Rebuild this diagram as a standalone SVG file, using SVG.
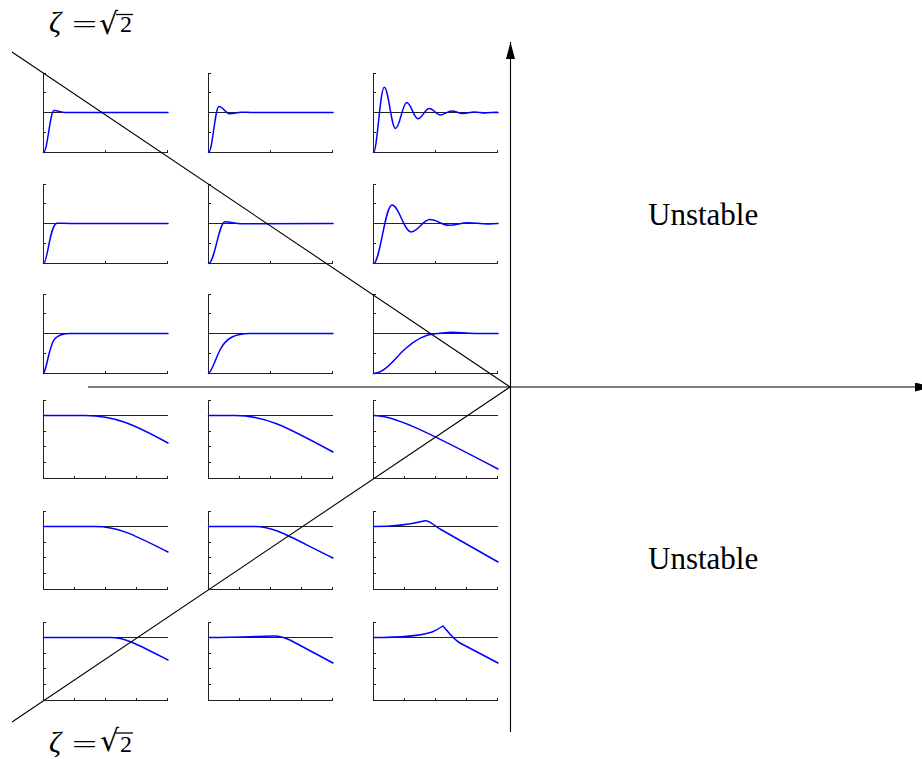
<svg xmlns="http://www.w3.org/2000/svg" xmlns:xlink="http://www.w3.org/1999/xlink" width="922" height="759" viewBox="0 0 922 759">
<style>
.ax{fill:none;stroke:#222;stroke-width:1}
.cv{fill:none;stroke:#0000ff;stroke-width:1.5;stroke-linejoin:round;stroke-linecap:round}
.ln{fill:none;stroke:#000;stroke-width:1.1}
.lbl{font-family:"Liberation Serif","DejaVu Serif",serif;font-size:24px;fill:#000}
.rad{font-family:"DejaVu Serif","Liberation Serif",serif;font-size:30px;fill:#000}
.zeta{font-family:"Liberation Serif","DejaVu Serif",serif;font-size:30px;font-style:italic;fill:#000}
.un{font-family:"Liberation Serif","DejaVu Serif",serif;font-size:31px;fill:#000}
</style>
<defs>
<g id="sA"><path class="ax" d="M0.5,0V-80M0,-0.5H125M0,-40.5H125M0.5,-20.5h2.5M0.5,-60.5h2.5M0.5,-79.5h2.5M62.5,0v-3M124.5,0v-3"/></g>
<g id="bA"><path class="ax" d="M0.5,0V-79M0,-0.5H125M0,-63.5H125M0.5,-16.5h2.5M0.5,-32.5h2.5M0.5,-47.5h2.5M0.5,-78.5h2.5M31.5,0v-3M62.5,0v-3M93.5,0v-3M124.5,0v-3"/></g>
<marker id="ah" markerWidth="17" markerHeight="9" refX="17" refY="4.5" orient="auto" markerUnits="userSpaceOnUse"><path d="M0,0L17,4.5L0,9z" fill="#000"/></marker>
</defs>
<rect width="922" height="759" fill="#fff"/>

<g id="plot-r1c1"><use xlink:href="#sA" x="43" y="153"/><path class="cv" d="M43.5,152.5 C47.5,152.5 50,110.5 54,110.5 C58,110.5 61,112.6 65,112.6 L168,112.5"/></g>
<g id="plot-r1c2"><use xlink:href="#sA" x="208" y="153"/><path class="cv" d="M208.5,152.5 C212.5,152.5 215,106.5 219,106.5 C223,106.5 226,113.8 230,113.8 C234,113.8 237,112.2 241,112.2 C245,112.2 248,112.5 252,112.5 L333,112.5"/></g>
<g id="plot-r1c3"><use xlink:href="#sA" x="373" y="153"/><path class="cv" d="M373.5,152.5 C377.1,152.5 380.15,87.3 384.25,87.3 C388.35,87.3 391.4,128.4 395.5,128.4 C399.6,128.4 402.65,102.5 406.75,102.5 C410.85,102.5 413.9,118.8 418,118.8 C422.1,118.8 425.15,108.5 429.25,108.5 C433.35,108.5 436.4,115 440.5,115 C444.6,115 447.65,110.9 451.75,110.9 C455.85,110.9 458.9,113.5 463,113.5 C467.1,113.5 470.15,111.9 474.25,111.9 C478.35,111.9 481.4,112.9 485.5,112.9 C489.6,112.9 492.65,112.3 496.75,112.3 L498,112.4"/></g>

<g id="plot-r2c1"><use xlink:href="#sA" x="43" y="264"/><path class="cv" d="M43.5,263.5 C47.5,263.5 50,223.5 57,223.3 C61,223.2 64,223.5 70,223.5 L168,223.5"/></g>
<g id="plot-r2c2"><use xlink:href="#sA" x="208" y="264"/><path class="cv" d="M208.5,263.5 C214.5,263.5 219,221.8 225,221.8 C231,221.8 235,223.8 241,223.8 L333,223.5"/></g>
<g id="plot-r2c3"><use xlink:href="#sA" x="373" y="264"/><path class="cv" d="M373.5,263.5 C379.9,263.5 385.1,205.1 392,205.1 C398.9,205.1 404.1,231.9 411,231.9 C417.9,231.9 423.1,219.6 430,219.6 C436.9,219.6 442.1,225.3 449,225.3 C455.9,225.3 461.1,222.7 468,222.7 C474.9,222.7 480.1,223.9 487,223.9 C491,223.9 494,223.6 498,223.5"/></g>

<g id="plot-r3c1"><use xlink:href="#sA" x="43" y="374"/><path class="cv" d="M43.5,373.5 C47,369 49,345 55,338.5 C59,334.5 63,333.5 70,333.5 L168,333.5"/></g>
<g id="plot-r3c2"><use xlink:href="#sA" x="208" y="374"/><path class="cv" d="M208.5,373.5 C212,371.5 215,360 220,350 C226,338 235,333.5 250,333.5 L333,333.5"/></g>
<g id="plot-r3c3"><use xlink:href="#sA" x="373" y="374"/><path class="cv" d="M373.5,373.5 C385,373.5 395,358 405,349 C415,340 425,334.5 435,333.8 C442,333.2 448,332.3 452,332.3 C460,332.3 465,333.5 475,333.5 L498,333.5"/></g>

<g id="plot-r4c1"><use xlink:href="#bA" x="43" y="479"/><path class="cv" d="M43.5,415.5 L85,415.5 C115,415.5 135,425 168,443"/></g>
<g id="plot-r4c2"><use xlink:href="#bA" x="208" y="479"/><path class="cv" d="M208.5,415.5 L235,415.5 C265,415.5 285,426 333,452"/></g>
<g id="plot-r4c3"><use xlink:href="#bA" x="373" y="479"/><path class="cv" d="M373.5,415.5 C393,415.5 420,428 498,469"/></g>

<g id="plot-r5c1"><use xlink:href="#bA" x="43" y="590"/><path class="cv" d="M43.5,526.5 L95,526.5 C120,526.5 138,537 168,552"/></g>
<g id="plot-r5c2"><use xlink:href="#bA" x="208" y="590"/><path class="cv" d="M208.5,526.5 L255,526.5 C275,526.5 290,537 333,558"/></g>
<g id="plot-r5c3"><use xlink:href="#bA" x="373" y="590"/><path class="cv" d="M373.5,526.5 C398,526.5 412,524 424,521 C428,520 431,523 440,529 L498,562"/></g>

<g id="plot-r6c1"><use xlink:href="#bA" x="43" y="701"/><path class="cv" d="M43.5,637.5 L110,637.5 C125,637.5 135,643 168,660"/></g>
<g id="plot-r6c2"><use xlink:href="#bA" x="208" y="701"/><path class="cv" d="M208.5,637.5 C240,637.5 265,636 275,636 C280,636 283,637 290,640 L333,663"/></g>
<g id="plot-r6c3"><use xlink:href="#bA" x="373" y="701"/><path class="cv" d="M373.5,637.5 C400,637.5 420,636 432,632 C437,630 440,628 443,626 C447,630 452,638 460,643 L498,663"/></g>

<g id="connectors">
<path class="ln" d="M510.5,732 V42" marker-end="url(#ah)"/>
<path class="ln" d="M88,387 H932" marker-end="url(#ah)"/>
<path class="ln" d="M12,52 L510,387 L12,722"/>
</g>

<g id="label-top">
<text class="zeta" x="49" y="32">ζ</text>
<text class="lbl" transform="translate(72,32) scale(1.85,1)">=</text>
<text class="rad" x="99" y="34">√</text>
<text class="lbl" x="120" y="32">2</text>
<line x1="116" y1="14.5" x2="133" y2="14.5" stroke="#000" stroke-width="1.3"/>
</g>
<g id="label-bottom">
<text class="zeta" x="49" y="752">ζ</text>
<text class="lbl" transform="translate(72,752) scale(1.85,1)">=</text>
<text class="rad" x="100" y="751" font-size="28">√</text>
<text class="lbl" x="120" y="752">2</text>
<line x1="115.5" y1="733" x2="133" y2="733" stroke="#000" stroke-width="1.3"/>
</g>
<g id="regions">
<text class="un" x="648" y="225">Unstable</text>
<text class="un" x="648" y="569">Unstable</text>
</g>
</svg>
